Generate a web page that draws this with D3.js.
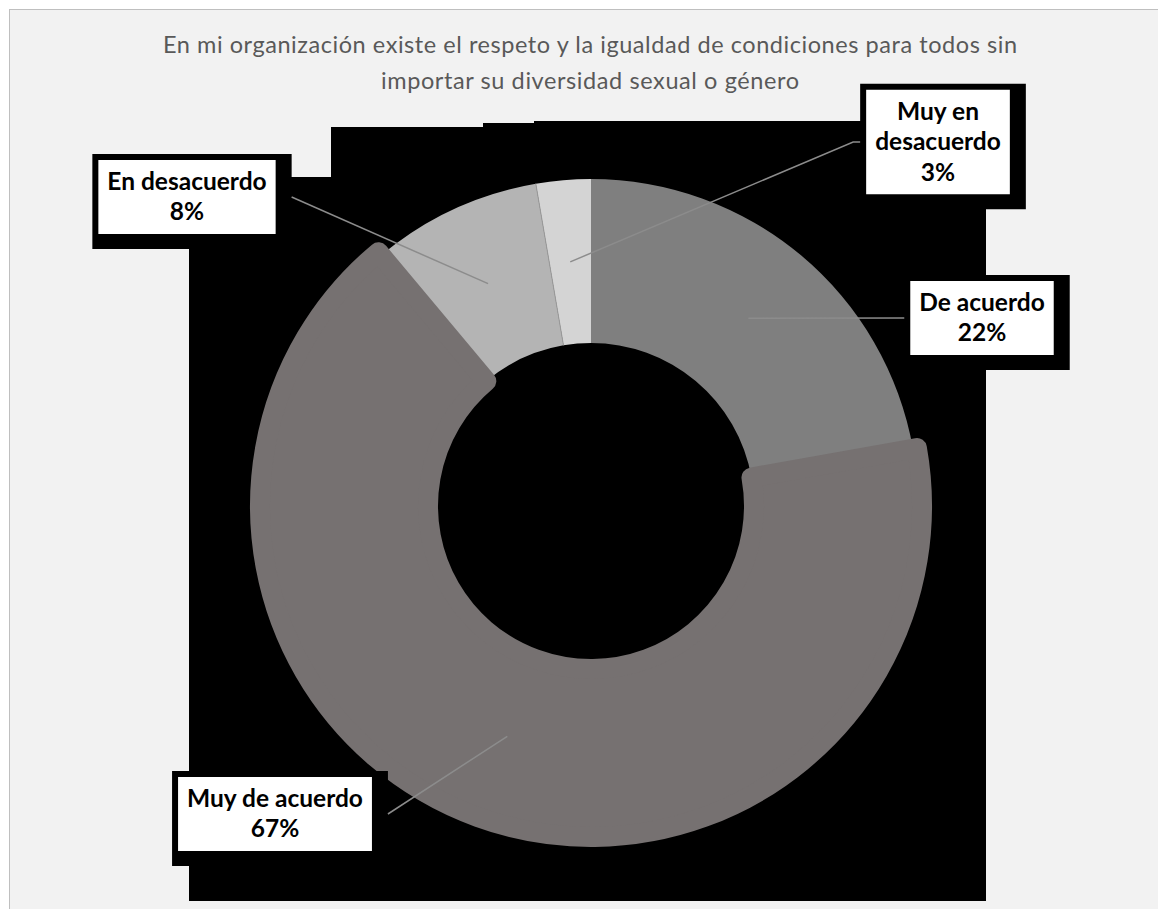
<!DOCTYPE html>
<html>
<head>
<meta charset="utf-8">
<script src="https://cdn.jsdelivr.net/npm/d3@7"></script>
<style>
  body { margin: 0; background: #fff; }
  svg { display: block; font-family: Lato, "Open Sans", sans-serif; }
</style>
</head>
<body>
<div id="chart"></div>
<script>
// data
var categories = ["De acuerdo", "Muy de acuerdo", "En desacuerdo", "Muy en desacuerdo"];
var values = [22.2, 66.7, 8.4, 2.7];
var labelLines = [["De acuerdo"], ["Muy de acuerdo"], ["En desacuerdo"], ["Muy en", "desacuerdo"]];
var titleLines = ["En mi organización existe el respeto y la igualdad de condiciones para todos sin",
                  "importar su diversidad sexual o género"];

// look
var colors = ["#7f7f7f", "#767171", "#b4b4b4", "#d4d4d4"];
var labelPos = [[391, -188], [-316, 308], [-404, -309], [347, -364]];   // label centre, relative to the donut centre
var elbow = [0, 0, 0, 7];
var titleWidths = [854, 418];

var width = 1158, height = 909;
var cx = 591, cy = 506;
var rOuter = 327, rInner = 163;
var fmt = function(v) { return d3.format('.0f')(v) + '%'; };

var svg = d3.select('#chart').append('svg')
    .attr('width', width)
    .attr('height', height);

svg.append('rect')
    .attr('x', 9.5).attr('y', 9.5)
    .attr('width', width).attr('height', height)
    .attr('fill', '#f2f2f2')
    .attr('stroke', '#bfbfbf');

svg.append('text')
    .attr('text-anchor', 'middle')
    .attr('fill', '#595959')
    .style('font-size', '23.5px')
    .selectAll('tspan')
    .data(titleLines)
    .enter().append('tspan')
    .attr('x', 590)
    .attr('y', function(d, i) { return 53 + i * 36; })
    .attr('textLength', function(d, i) { return titleWidths[i]; })
    .attr('lengthAdjust', 'spacing')
    .text(function(d) { return d; });

// the black backdrop behind the plot area
var backdrop = [[189, 177, 986, 901], [331, 127, 986, 178], [483, 123, 986, 128], [534, 121, 986, 124]];
svg.append('g')
    .selectAll('rect')
    .data(backdrop)
    .enter().append('rect')
    .attr('x', function(d) { return d[0]; })
    .attr('y', function(d) { return d[1]; })
    .attr('width', function(d) { return d[2] - d[0]; })
    .attr('height', function(d) { return d[3] - d[1]; })
    .attr('fill', '#000');

var pie = d3.pie().sort(null).value(function(d) { return d; });
var arcs = pie(values);
var arc = d3.arc().innerRadius(rInner).outerRadius(rOuter);
var bigArc = d3.arc().innerRadius(rInner).outerRadius(rOuter + 4);

var g = svg.append('g')
    .attr('transform', 'translate(' + cx + ',' + cy + ')');

// big slice goes last, it is drawn with a thick rounded outline
var order = [0, 2, 3, 1];
order.forEach(function(i) {
  var p = g.append('path')
      .attr('fill', colors[i]);
  if (i === 1) {
    p.attr('d', bigArc(arcs[i]))
      .attr('stroke', colors[i])
      .attr('stroke-width', 20)
      .attr('stroke-linejoin', 'round');
  } else {
    p.attr('d', arc(arcs[i]));
  }
});

// thin edge between the two small slices
var a = arcs[3].startAngle;
var p0 = d3.pointRadial(a, rInner), p1 = d3.pointRadial(a, rOuter);
g.append('line')
    .attr('x1', p0[0]).attr('y1', p0[1])
    .attr('x2', p1[0]).attr('y2', p1[1])
    .attr('stroke', '#9a9a9a')
    .attr('stroke-width', 1);

// labels
var lineH = 30.5;
arcs.forEach(function(d, i) {
  var lines = labelLines[i].concat([fmt(values[i])]);
  var lg = svg.append('g');
  var txt = lg.append('text')
      .attr('text-anchor', 'middle')
      .attr('fill', '#000')
      .style('font-size', '24.5px')
      .style('font-weight', 'bold');
  txt.selectAll('tspan')
      .data(lines)
      .enter().append('tspan')
      .attr('x', cx + labelPos[i][0])
      .attr('y', function(t, k) { return cy + labelPos[i][1] + (k - (lines.length - 1) / 2) * lineH + 8; })
      .text(function(t) { return t; });

  var w = 0;
  txt.selectAll('tspan').each(function() { w = Math.max(w, this.getComputedTextLength()); });
  w += 18;
  var h = lines.length * lineH + 13;
  var bx = cx + labelPos[i][0] - w / 2;
  var by = cy + labelPos[i][1] - h / 2;

  lg.insert('rect', 'text')
      .attr('x', bx - 6).attr('y', by - 6)
      .attr('width', w + 22).attr('height', h + 21)
      .attr('fill', '#000');
  lg.insert('rect', 'text')
      .attr('x', bx).attr('y', by)
      .attr('width', w).attr('height', h)
      .attr('fill', '#fff');

  // leader line from the shadow edge to the slice centre
  var c = arc.centroid(d);
  var left = bx + w / 2 < cx + c[0];
  var ax = left ? bx + w + 16 : bx - 6;
  var ay = by + h / 2;
  var ex = left ? ax + elbow[i] : ax - elbow[i];
  svg.append('path')
      .attr('d', d3.line()([[ax, ay], [ex, ay], [cx + c[0], cy + c[1]]]))
      .attr('fill', 'none')
      .attr('stroke', '#8c8c8c')
      .attr('stroke-width', 1.5);
});
</script>
</body>
</html>
